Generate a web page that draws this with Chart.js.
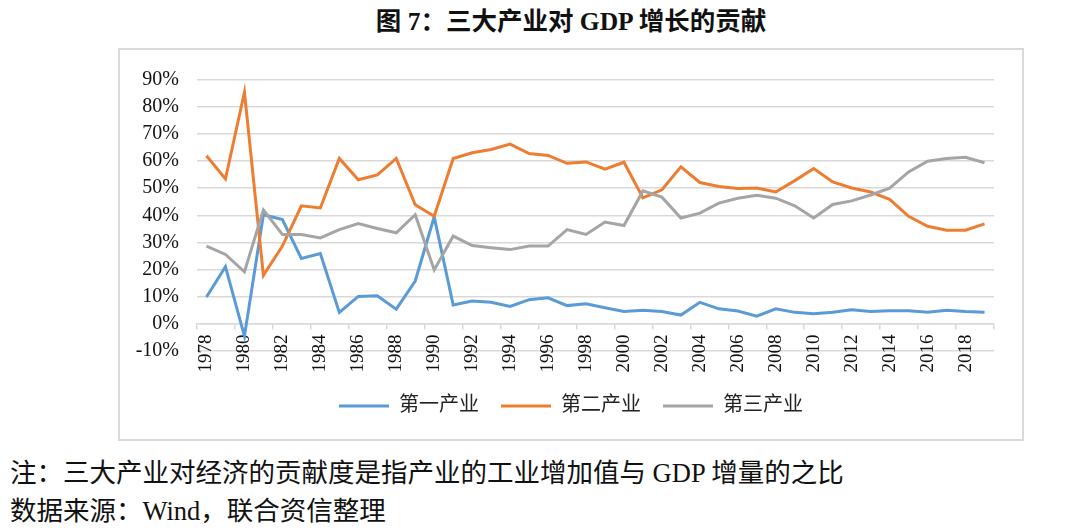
<!DOCTYPE html>
<html>
<head>
<meta charset="utf-8">
<script src="https://cdn.jsdelivr.net/npm/chart.js@4"></script>
<style>
  html, body { margin: 0; padding: 0; background: #fff; }
  body { width: 1080px; height: 531px; position: relative; overflow: hidden; }
  .title {
    position: absolute; left: 0; width: 1142px; top: 0px; text-align: center;
    font: bold 25.5px "Liberation Serif", "Noto Sans CJK SC", serif; color: #111;
  }
  .box {
    position: absolute; left: 118px; top: 48px; width: 906px; height: 393px;
    box-sizing: border-box; border: 2px solid #d9d9d9;
  }
  .box canvas { display: block; }
  .note {
    position: absolute; left: 10px;
    font: 26.5px "Liberation Serif", "Noto Sans CJK SC", serif; color: #111;
  }
</style>
</head>
<body>
<div class="title">图 7：三大产业对 GDP 增长的贡献</div>
<div class="box"><canvas id="js-line-chart" width="902" height="389"></canvas></div>
<div class="note" style="top:451px">注：三大产业对经济的贡献度是指产业的工业增加值与 GDP 增量的之比</div>
<div class="note" style="top:489px">数据来源：Wind，联合资信整理</div>

<script>
// years on the x axis
const years = [
  "1978", "1979", "1980", "1981", "1982", "1983", "1984", "1985", "1986", "1987",
  "1988", "1989", "1990", "1991", "1992", "1993", "1994", "1995", "1996", "1997",
  "1998", "1999", "2000", "2001", "2002", "2003", "2004", "2005", "2006", "2007",
  "2008", "2009", "2010", "2011", "2012", "2013", "2014", "2015", "2016", "2017",
  "2018", "2019",
];

// contribution to GDP growth, %
const primaryData = [
  9.8, 21.0, -4.7, 40.2, 38.4, 24.0, 25.8, 4.1, 10.0, 10.2, 5.3, 15.7,
  39.4, 6.8, 8.3, 7.8, 6.3, 8.8, 9.5, 6.6, 7.3, 5.8, 4.4, 4.9, 4.4, 3.1,
  7.8, 5.4, 4.6, 2.7, 5.4, 4.1, 3.6, 4.1, 5.1, 4.4, 4.7, 4.7, 4.1, 4.9, 4.4, 4.1,
];
const secondaryData = [
  62.0, 53.4, 85.5, 17.8, 28.6, 43.5, 42.7, 61.0, 53.1, 54.9, 61.0, 43.9,
  39.6, 61.0, 63.1, 64.3, 66.3, 62.8, 62.1, 59.2, 59.7, 57.0, 59.6, 46.4, 49.4, 57.9,
  52.1, 50.6, 49.9, 50.1, 48.6, 52.8, 57.3, 52.3, 50.1, 48.6, 45.9, 39.6, 35.9, 34.5, 34.5, 36.8,
];
const tertiaryData = [
  28.6, 25.5, 19.1, 42.0, 32.9, 32.9, 31.6, 34.7, 36.9, 35.1, 33.5, 40.2,
  19.8, 32.3, 28.8, 28.0, 27.3, 28.6, 28.6, 34.7, 32.9, 37.5, 36.2, 49.0, 46.7, 39.0,
  40.8, 44.5, 46.3, 47.4, 46.3, 43.5, 39.0, 44.0, 45.3, 47.5, 50.0, 56.0, 60.0, 61.0, 61.4, 59.4,
];

const seriesNames = ["第一产业", "第二产业", "第三产业"];

const yMin = -10;
const yMax = 90;
const yStep = 10;

const fontFamily = "'Liberation Serif', 'Noto Sans CJK SC', serif";
const gridColor = "#d9d9d9";

function lineSet(label, data, color, order) {
  return {
    label: label,
    data: data,
    borderColor: color,
    backgroundColor: color,
    borderWidth: 3,
    pointRadius: 0,
    pointHoverRadius: 0,
    tension: 0,
    fill: false,
    order: order,
  };
}

const lineChart = document.getElementById("js-line-chart");

//every other category gets a tick mark, like the source
const tickMarkColor = (ctx) =>
  ctx.index === undefined || ctx.index % 2 === 0 ? gridColor : "rgba(0,0,0,0)";

// blank axis used only to reserve space
function spacer(position, size) {
  return {
    position: position,
    display: true,
    grid: { display: false, drawTicks: false },
    border: { display: false },
    ticks: { display: false },
    afterFit: (scale) => {
      if (scale.isHorizontal()) scale.height = size;
      else scale.width = size;
    },
  };
}

const myLineChart = new Chart(lineChart, {
  type: "line",
  data: {
    labels: years,
    datasets: [
      lineSet(seriesNames[0], primaryData, "#5b9bd5", 2),
      lineSet(seriesNames[1], secondaryData, "#ed7d31", 1),
      lineSet(seriesNames[2], tertiaryData, "#a5a5a5", 0),
    ],
  },
  options: {
    responsive: false,
    animation: false,
    layout: {
      padding: { top: 24.5, right: 0, bottom: 13, left: 0 },
    },
    plugins: {
      title: { display: false },
      tooltip: { enabled: false },
      legend: {
        position: "bottom",
        labels: {
          usePointStyle: true,
          pointStyle: "line",
          pointStyleWidth: 50,
          boxHeight: 20,
          padding: 22,
          color: "#222",
          font: { family: fontFamily, size: 20 },
          sort: (a, b) => a.datasetIndex - b.datasetIndex,
        },
      },
    },
    scales: {
      x: {
        position: { y: 0 },
        offset: true,
        grid: {
          offset: true,
          drawOnChartArea: false,
          drawTicks: true,
          tickLength: 5,
          color: tickMarkColor,
          lineWidth: 1.5,
        },
        border: { display: true, color: gridColor, width: 1.5 },
        ticks: {
          autoSkip: false,
          maxRotation: 90,
          minRotation: 90,
          padding: 6,
          color: "#111",
          font: { family: fontFamily, size: 19 },
          callback: function (val, idx) {
            return idx % 2 === 0 ? this.getLabelForValue(val) : "";
          },
        },
        afterFit: (scale) => {
          scale.height = 45;
        },
      },
      y: {
        min: yMin,
        max: yMax,
        grid: {
          color: gridColor,
          lineWidth: 1.5,
          drawTicks: false,
        },
        border: { display: false },
        ticks: {
          stepSize: yStep,
          padding: 18,
          color: "#111",
          font: { family: fontFamily, size: 20 },
          callback: (v) => v + "%",
        },
        afterFit: (scale) => {
          scale.width = 77;
        },
      },
      // keeps the legend centred in the box and the plot clear of it
      yRight: spacer("right", 28),
      xBottom: Object.assign(spacer("bottom", 23.5), { type: "category" }),
    },
  },
});
</script>
</body>
</html>
